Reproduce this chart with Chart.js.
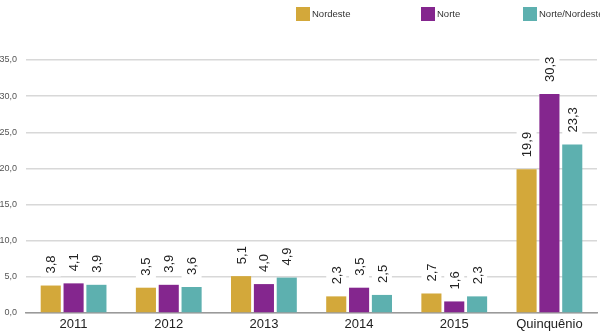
<!DOCTYPE html>
<html lang="pt">
<head>
  <meta charset="UTF-8">
  <title>Nordeste / Norte</title>
  <style>
    body { margin: 0; background: #fff; }
    .wrap { position: relative; width: 600px; height: 332px; }
  </style>
  <script src="https://cdn.jsdelivr.net/npm/chart.js"></script>
</head>
<body>
  <div class="wrap"><canvas id="chart" width="600" height="332"></canvas></div>

  <script>
    // data
    const categories = ['2011', '2012', '2013', '2014', '2015', 'Quinquênio'];
    const nordeste = [3.8, 3.5, 5.1, 2.3, 2.7, 19.9];
    const norte = [4.1, 3.9, 4.0, 3.5, 1.6, 30.3];
    const norteNordeste = [3.9, 3.6, 4.9, 2.5, 2.3, 23.3];
    const seriesNames = ['Nordeste', 'Norte', 'Norte/Nordeste'];
    const yTicks = [0, 5, 10, 15, 20, 25, 30, 35];

    const colors = ['#D3A83A', '#84268E', '#5DB0AF'];
    const fmt = v => v.toFixed(1).replace('.', ',');

    // value labels, rotated, on a white box that cuts the grid lines
    const valueLabels = {
      id: 'valueLabels',
      afterDatasetsDraw(chart) {
        const ctx = chart.ctx;
        ctx.save();
        ctx.font = '13px "Liberation Sans", Arial, sans-serif';
        chart.data.datasets.forEach((ds, i) => {
          chart.getDatasetMeta(i).data.forEach((bar, j) => {
            const txt = fmt(ds.data[j]);
            const w = ctx.measureText(txt).width;
            ctx.save();
            ctx.translate(bar.x, bar.y - 12);
            ctx.rotate(-Math.PI / 2);
            ctx.fillStyle = '#fff';
            ctx.fillRect(-3, -10, w + 6, 20);
            ctx.fillStyle = '#222';
            ctx.textAlign = 'left';
            ctx.textBaseline = 'middle';
            ctx.fillText(txt, 0, 1);
            ctx.restore();
          });
        });
        ctx.restore();
      }
    };

    // legend across the top right
    const topLegend = {
      id: 'topLegend',
      afterDraw(chart) {
        const ctx = chart.ctx;
        const xs = [296, 421, 523];
        ctx.save();
        ctx.font = '9.5px "Liberation Sans", Arial, sans-serif';
        ctx.textBaseline = 'middle';
        chart.data.datasets.forEach((ds, i) => {
          ctx.fillStyle = ds.backgroundColor;
          ctx.fillRect(xs[i], 7, 14, 14);
          ctx.fillStyle = '#333';
          ctx.fillText(ds.label, xs[i] + 16, 14.5);
        });
        ctx.restore();
      }
    };

    new Chart(document.getElementById('chart'), {
      type: 'bar',
      data: {
        labels: categories,
        datasets: [nordeste, norte, norteNordeste].map((d, i) => ({
          label: seriesNames[i],
          data: d,
          backgroundColor: colors[i],
          categoryPercentage: 0.72,
          barPercentage: 0.88
        }))
      },
      options: {
        responsive: false,
        animation: false,
        layout: { padding: { top: 60, right: 3, left: 0, bottom: 0 } },
        plugins: { legend: { display: false }, tooltip: { enabled: false } },
        scales: {
          x: {
            grid: { display: false, drawTicks: false },
            border: { color: '#9a9a9a', width: 1.5 },
            ticks: { color: '#222', font: { size: 13, family: '"Liberation Sans", Arial, sans-serif' }, padding: 4 },
            afterFit: s => { s.height = 19; }
          },
          y: {
            min: 0,
            max: 35,
            afterBuildTicks: s => { s.ticks = yTicks.map(v => ({ value: v })); },
            grid: { color: '#d8d8d8', lineWidth: 1.5, drawTicks: false },
            border: { display: false },
            ticks: {
              color: '#555',
              padding: 9,
              font: { size: 9, family: '"Liberation Sans", Arial, sans-serif' },
              callback: v => fmt(v)
            },
            afterFit: s => { s.width = 26; }
          }
        }
      },
      plugins: [valueLabels, topLegend]
    });
  </script>
</body>
</html>
